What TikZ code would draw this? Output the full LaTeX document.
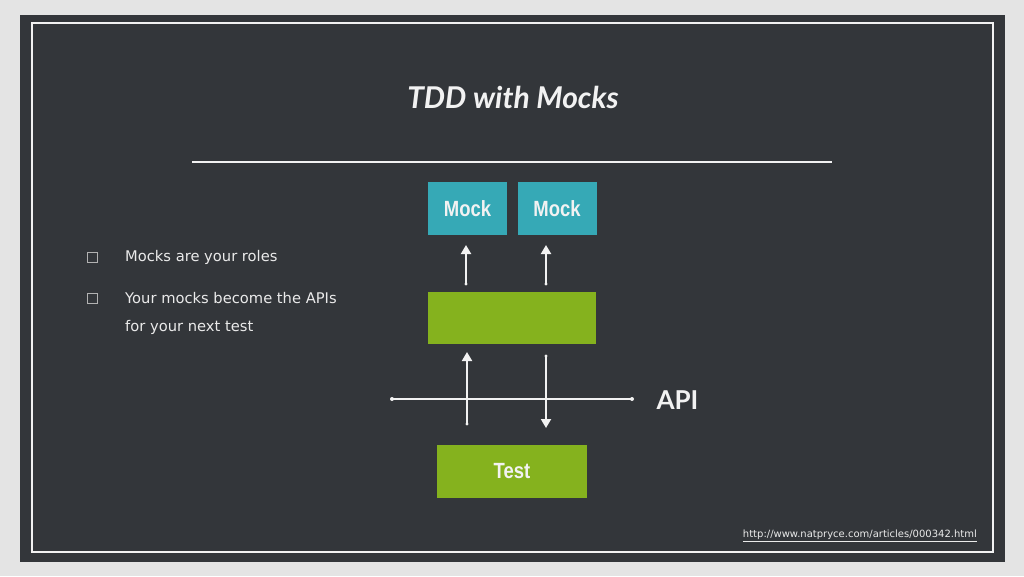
\documentclass[tikz,border=0pt]{standalone}
\usepackage{fontspec}
\setmainfont{Lato}
\newfontfamily\boxfont[FakeStretch=0.84]{Liberation Sans}
\newfontfamily\bodyfont{DejaVu Sans}
\newfontfamily\titlefont{Lato}
\usetikzlibrary{arrows.meta}
\definecolor{bgout}{HTML}{E4E4E4}
\definecolor{slate}{HTML}{33363A}
\definecolor{chalk}{HTML}{F2F2F2}
\definecolor{teal}{HTML}{36A9B6}
\definecolor{lime}{HTML}{85B21E}
\definecolor{bodytxt}{HTML}{EAEAEA}
\tikzset{
  boxstyle/.style={draw=none, inner sep=0pt, outer sep=0pt},
  mockbox/.style={boxstyle, fill=teal, minimum width=79pt, minimum height=53pt, text=chalk, font=\boxfont\bfseries\fontsize{22}{26}\selectfont},
  greenbox/.style={boxstyle, fill=lime, text=chalk, font=\boxfont\bfseries\fontsize{22}{26}\selectfont},
  arrowline/.style={draw=chalk, line width=2pt, -{Triangle[length=9pt,width=10pt]}},
  tailline/.style={draw=chalk, line width=2pt},
  bodytext/.style={anchor=west, inner sep=0pt, text=bodytxt, font=\bodyfont\fontsize{14.7}{17}\selectfont},
  bulletbox/.style={draw=gray!60, line width=0.8pt, minimum width=10pt, minimum height=10pt, inner sep=0pt},
}
\begin{document}
\begin{tikzpicture}[x=1pt,y=-1pt]
\useasboundingbox (0,0) rectangle (1024,576);
\fill[bgout] (0,0) rectangle (1024,576);
\fill[slate] (20,15) rectangle (1005,562);
\draw[chalk, line width=1.8pt] (32,23) rectangle (993,552);
% title
\node[text=chalk, font=\titlefont\bfseries\itshape\fontsize{30}{34}\selectfont] (title) at (513,97) {TDD with Mocks};
\coordinate (rl) at (192,162);
\coordinate (rr) at (832,162);
\draw[chalk, line width=1.5pt] (rl) -- (rr);
% bullets
\node[bulletbox] (b1) at (92,257) {};
\node[bulletbox] (b2) at (92,298) {};
\node[bodytext] (t1) at (125,257) {Mocks are your roles};
\node[bodytext] (t2) at (125,298) {Your mocks become the APIs};
\node[bodytext] (t3) at (125,327) {for your next test};
% boxes
\node[mockbox] (m1) at (467.5,208.5) {Mock};
\node[mockbox] (m2) at (557,208.5) {Mock};
\node[greenbox, minimum width=168pt, minimum height=52pt] (obj) at (512,318) {};
\node[greenbox, minimum width=150pt, minimum height=53pt] (test) at (512,471.5) {Test};
% arrows to mocks
\coordinate (a1s) at (466,284);
\coordinate (a1e) at (466,245);
\coordinate (a2s) at (546,284);
\coordinate (a2e) at (546,245);
\draw[arrowline] (a1s) -- (a1e);
\draw[arrowline] (a2s) -- (a2e);
\fill[chalk] (a1s) circle (1.6pt) (a2s) circle (1.6pt);
% API line
\coordinate (al) at (392,399);
\coordinate (ar) at (632,399);
\draw[tailline] (al) -- (ar);
\fill[chalk] (al) circle (2pt) (ar) circle (2pt);
\node[anchor=west, text=chalk, font=\titlefont\bfseries\fontsize{26}{30}\selectfont] (api) at (653,400) {API};
% arrows between test and object
\coordinate (u1s) at (467,424);
\coordinate (u1e) at (467,352);
\coordinate (d1s) at (546,356);
\coordinate (d1e) at (546,428);
\draw[arrowline] (u1s) -- (u1e);
\draw[arrowline] (d1s) -- (d1e);
\fill[chalk] (u1s) circle (1.6pt) (d1s) circle (1.6pt);
% URL
\node[anchor=east, text=bodytxt, font=\bodyfont\fontsize{10}{12}\selectfont, inner sep=0pt] (url) at (977,536) {\underline{http://www.natpryce.com/articles/000342.html}};
\end{tikzpicture}
\end{document}
